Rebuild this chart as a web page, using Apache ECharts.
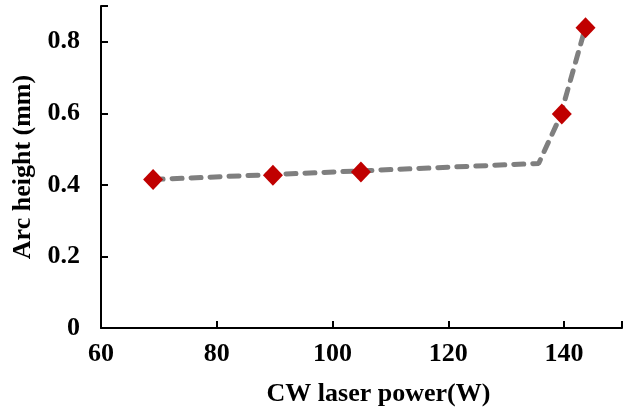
<!DOCTYPE html>
<html>
<head>
<meta charset="utf-8">
<script src="https://cdn.jsdelivr.net/npm/echarts@6/dist/echarts.min.js"></script>
<style>
  html, body { margin: 0; padding: 0; background: #fff; }
</style>
</head>
<body>
<div id="chart" style="width: 623px; height: 413px"></div>
<script>
// measured points (CW power W, arc height mm)
const power = [69, 89.7, 104.9, 139.6, 143.7];
const arcHeight = [0.415, 0.427, 0.436, 0.598, 0.839];
// dashed trend line
const trendPower = [69, 135.6, 139.3, 143.5];
const trendHeight = [0.415, 0.46, 0.59, 0.83];

const chart = echarts.init(document.getElementById("chart"));

const font = "Liberation Serif";

const option = {
  backgroundColor: "#fff",
  animation: false,
  grid: { left: 101, right: 1, top: 6, bottom: 85, outerBoundsMode: "none" },
  xAxis: {
    type: "value",
    min: 60,
    max: 150,
    interval: 20,
    name: "CW laser power(W)",
    nameLocation: "middle",
    nameGap: 53,
    nameTextStyle: {
      fontFamily: font, fontWeight: "bold", fontSize: 26, color: "#000",
      padding: [0, 0, 0, 34]
    },
    axisLine: { lineStyle: { color: "#000", width: 2 } },
    axisTick: { inside: true, length: 7, lineStyle: { color: "#000", width: 2 } },
    axisLabel: {
      fontFamily: font, fontWeight: "bold", fontSize: 26, color: "#000", margin: 13,
      formatter: v => (v === 150 ? "" : v)
    },
    splitLine: { show: false }
  },
  yAxis: {
    type: "value",
    min: 0,
    max: 0.9,
    interval: 0.2,
    name: "Arc height (mm)",
    nameLocation: "middle",
    nameGap: 63,
    nameTextStyle: { fontFamily: font, fontWeight: "bold", fontSize: 26, color: "#000" },
    axisLine: { show: true, lineStyle: { color: "#000", width: 2 } },
    axisTick: { show: true, inside: true, length: 7, lineStyle: { color: "#000", width: 2 } },
    axisLabel: {
      fontFamily: font, fontWeight: "bold", fontSize: 26, color: "#000", margin: 21,
      formatter: v => (v > 0.85 ? "" : (v === 0 ? "0" : v.toFixed(1)))
    },
    splitLine: { show: false }
  },
  series: [
    {
      type: "line",
      data: trendPower.map((p, i) => [p, trendHeight[i]]),
      symbol: "none",
      lineStyle: { color: "#7f7f7f", width: 5, type: [10, 9], cap: "round" },
      z: 2
    },
    {
      type: "scatter",
      data: power.map((p, i) => [p, arcHeight[i]]),
      symbol: "diamond",
      symbolSize: [20, 21],
      itemStyle: { color: "#c00000", opacity: 1 },
      z: 3
    }
  ]
};

chart.setOption(option);
</script>
</body>
</html>
